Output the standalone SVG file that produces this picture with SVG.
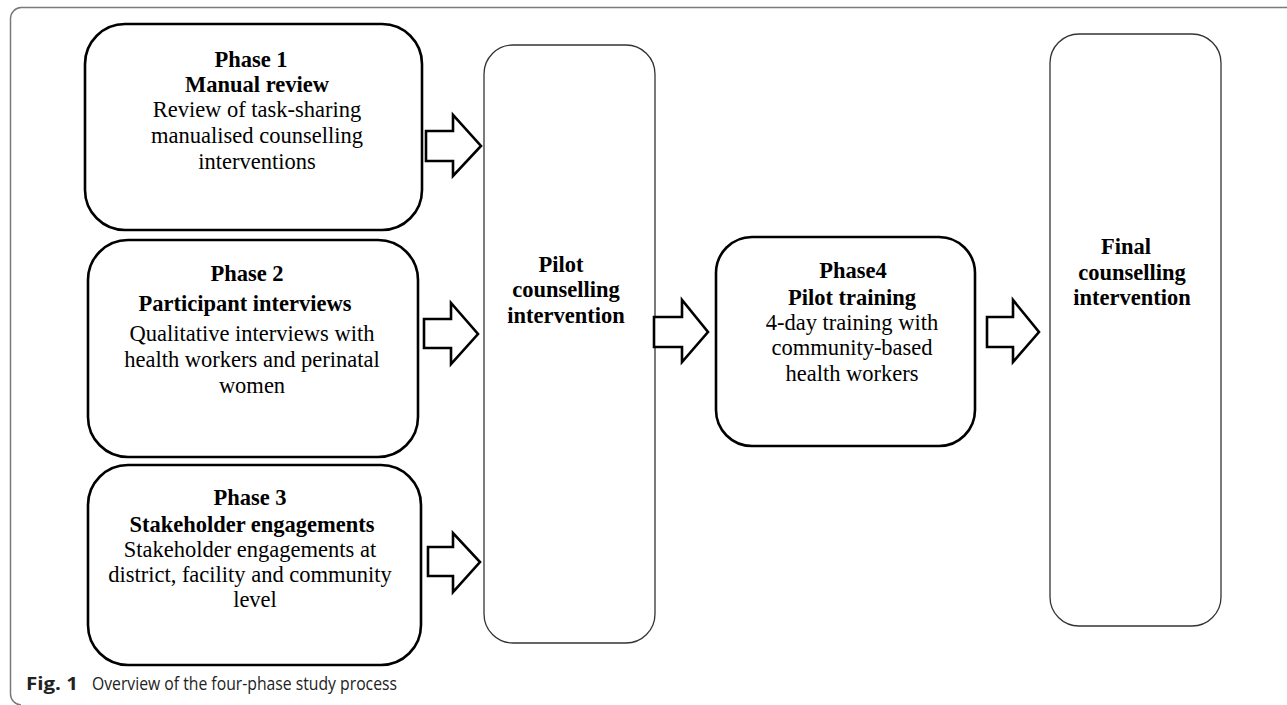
<svg xmlns="http://www.w3.org/2000/svg" width="1287" height="705" viewBox="0 0 1287 705">
<style>
.frame{fill:none;stroke:#7a7a7a;stroke-width:1.5}
.thick{fill:#fff;stroke:#000;stroke-width:2.6}
.thin{fill:#fff;stroke:#333;stroke-width:1.3}
.arrow{fill:#fff;stroke:#000;stroke-width:2.6;stroke-linejoin:miter}
text{font-family:"Liberation Serif","Times New Roman",serif;font-size:22.5px;fill:#000;text-anchor:middle}
.b{font-weight:bold}
.cap{font-family:"Open Sans","Noto Sans",sans-serif;font-size:17.5px;text-anchor:start;fill:#222}
</style>
<rect width="1287" height="705" fill="#fff"/>
<path class="frame" d="M1287 7.5H21A11 11 0 0 0 10.5 18.5V694A11 11 0 0 0 21 705"/>
<g id="phase1">
<rect class="thick" x="85" y="24" width="337" height="206" rx="40"/>
<text class="b" x="251" y="67">Phase 1</text>
<text class="b" x="257" y="92">Manual review</text>
<text x="257" y="117">Review of task-sharing</text>
<text x="257" y="143">manualised counselling</text>
<text x="257" y="169">interventions</text>
</g>
<g id="phase2">
<rect class="thick" x="88" y="240" width="330" height="217" rx="40"/>
<text class="b" x="247" y="281">Phase 2</text>
<text class="b" x="245" y="311">Participant interviews</text>
<text x="252" y="341">Qualitative interviews with</text>
<text x="252" y="367">health workers and perinatal</text>
<text x="252" y="393">women</text>
</g>
<g id="phase3">
<rect class="thick" x="88" y="465" width="333" height="200" rx="40"/>
<text class="b" x="250" y="505">Phase 3</text>
<text class="b" x="252" y="532">Stakeholder engagements</text>
<text x="250" y="557"> Stakeholder engagements at</text>
<text x="250" y="582">district, facility and community</text>
<text x="255" y="607">level</text>
</g>
<g id="pilot">
<rect class="thin" x="484" y="45" width="171" height="598" rx="29"/>
<text class="b" x="561" y="272">Pilot</text>
<text class="b" x="566" y="297">counselling</text>
<text class="b" x="566" y="323">intervention</text>
</g>
<g id="phase4">
<rect class="thick" x="716" y="237" width="259" height="209" rx="36"/>
<text class="b" x="853" y="278">Phase4</text>
<text class="b" x="852" y="305">Pilot training</text>
<text x="852" y="330">4-day training with</text>
<text x="852" y="355">community-based</text>
<text x="852" y="381">health workers</text>
</g>
<g id="final">
<rect class="thin" x="1050" y="34" width="171" height="592" rx="29"/>
<text class="b" x="1126" y="254">Final</text>
<text class="b" x="1132" y="280">counselling</text>
<text class="b" x="1132" y="305">intervention</text>
</g>
<g id="connectors">
<polygon class="arrow" points="426,131 453,131 453,115 481,146 453,176 453,161 426,161"/>
<polygon class="arrow" points="424,319 451,319 451,303 478,334 451,364 451,348 424,348"/>
<polygon class="arrow" points="428,547 453,547 453,533 480,562 453,592 453,576 428,576"/>
<polygon class="arrow" points="654,317 682,317 682,300 708,332 682,362 682,347 654,347"/>
<polygon class="arrow" points="987,317 1013,317 1013,300 1039,332 1013,362 1013,347 987,347"/>
</g>
<g id="caption">
<text class="cap" x="26" y="690" font-weight="bold" textLength="52" lengthAdjust="spacingAndGlyphs">Fig. 1</text>
<text class="cap" x="92" y="690" textLength="305" lengthAdjust="spacingAndGlyphs">Overview of the four-phase study process</text>
</g>
</svg>
